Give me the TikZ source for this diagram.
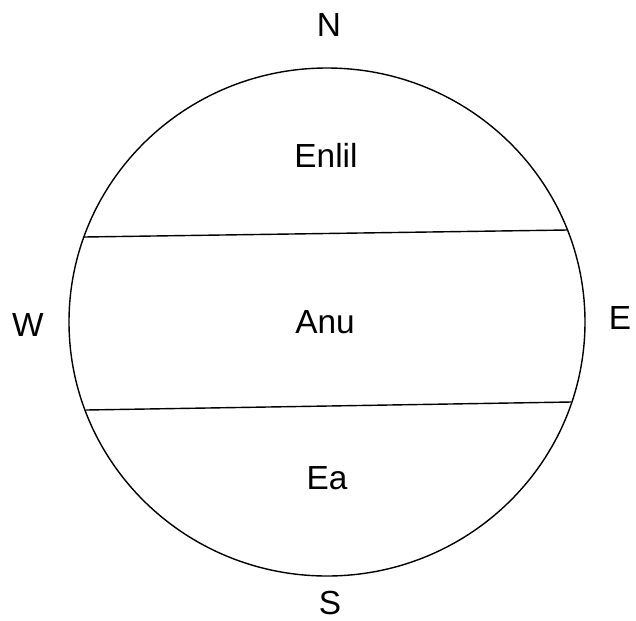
\documentclass[tikz,border=0pt]{standalone}
\usepackage{fontspec}
\setmainfont{Liberation Sans}

\begin{document}
\begin{tikzpicture}[x=0.02cm,y=-0.02cm,
    lbl/.style={font=\fontsize{19}{22}\selectfont, inner sep=0pt},
    edge/.style={line width=0.8pt}]
    \useasboundingbox (0,0) rectangle (636,620);
    \draw[edge] (327,322) ellipse [x radius=258, y radius=254];
    \coordinate (u1) at (84,237); \coordinate (u2) at (567,230);
    \coordinate (l1) at (86,410); \coordinate (l2) at (571,402);
    \draw[edge] (u1) -- (u2);
    \draw[edge] (l1) -- (l2);
    \node[lbl] (N) at (329,25) {N};
    \node[lbl] (S) at (330,603) {S};
    \node[lbl] (W) at (28,325) {W};
    \node[lbl] (E) at (620,318) {E};
    \node[lbl] (enlil) at (326,155) {Enlil};
    \node[lbl] (anu) at (325,322) {Anu};
    \node[lbl] (ea) at (327,478) {Ea};
\end{tikzpicture}
\end{document}
